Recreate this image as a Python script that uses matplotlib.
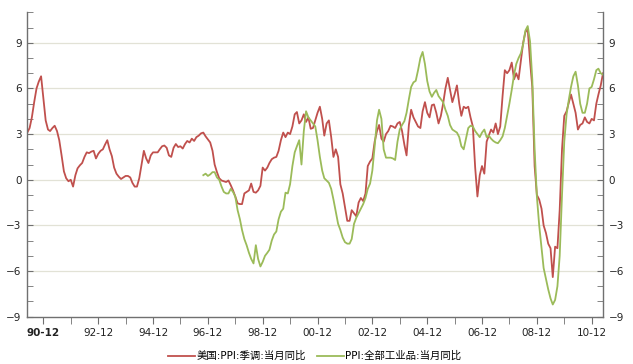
import numpy as np
import pandas as pd
import matplotlib
matplotlib.use("Agg")
import matplotlib.pyplot as plt
import matplotlib.dates as mdates
from matplotlib.ticker import MultipleLocator, FixedLocator

plt.rcParams['font.family'] = ['DejaVu Sans', 'Noto Sans CJK SC']

# 美国:PPI:季调:当月同比, monthly from 1990-05
us_start = '1990-05-01'
us_ppi = [
    3.1, 3.4, 4.1, 5.1, 6.0, 6.45, 6.8, 5.4, 3.9, 3.3, 3.2, 3.4,
    3.55, 3.2, 2.6, 1.6, 0.55, 0.1, -0.1, 0.0, -0.45, 0.3, 0.75, 0.95,
    1.1, 1.5, 1.8, 1.75, 1.85, 1.9, 1.4, 1.7, 1.9, 2.0, 2.3, 2.6,
    2.0, 1.55, 0.8, 0.4, 0.2, 0.05, 0.15, 0.25, 0.25, 0.15, -0.2, -0.45,
    -0.45, 0.1, 1.0, 1.9, 1.4, 1.1, 1.6, 1.8, 1.8, 1.8, 2.0, 2.2,
    2.25, 2.1, 1.6, 1.5, 2.1, 2.35, 2.15, 2.2, 2.05, 2.35, 2.55, 2.45,
    2.7, 2.55, 2.8, 2.9, 3.05, 3.1, 2.85, 2.65, 2.45, 1.9, 1.0, 0.5,
    0.1, -0.05, -0.1, -0.15, -0.05, -0.35, -0.7, -1.1, -1.55, -1.6, -1.6, -0.9,
    -0.8, -0.7, -0.25, -0.8, -0.85, -0.7, -0.4, 0.8, 0.6, 0.8, 1.1, 1.35,
    1.45, 1.5, 1.9, 2.6, 3.1, 2.8, 3.1, 3.0, 3.5, 4.3, 4.45, 3.7,
    3.9, 4.3, 3.8, 4.1, 3.35, 3.4, 3.9, 4.4, 4.8, 4.0, 2.9, 3.7,
    3.9, 2.8, 1.5, 2.0, 1.5, -0.3, -0.9, -1.8, -2.7, -2.7, -2.0, -2.2,
    -2.4, -1.5, -1.2, -1.4, -0.9, 0.9, 1.2, 1.4, 2.5, 3.2, 3.6, 2.7,
    2.5, 3.0, 3.2, 3.55, 3.5, 3.4, 3.7, 3.8, 3.2, 2.3, 1.6, 3.6,
    4.6, 4.1, 3.8, 3.5, 3.4, 4.5, 5.1, 4.4, 4.1, 4.9, 4.95, 4.4,
    3.7, 4.2, 5.0, 6.0, 6.7, 5.9, 5.1, 5.6, 6.2, 5.0, 4.2, 4.8,
    4.7, 4.8, 4.1, 3.5, 0.8, -1.1, 0.3, 0.9, 0.4, 2.5, 2.9, 3.3,
    3.1, 3.7, 3.0, 3.5, 5.5, 7.2, 7.0, 7.2, 7.7, 6.6, 7.0, 6.6,
    7.8, 9.0, 9.7, 9.9, 7.8, 6.1, 0.9, -1.0, -1.3, -1.9, -3.0, -3.5,
    -4.2, -4.5, -6.4, -4.4, -4.5, -2.0, 2.0, 4.2, 4.5, 5.1, 5.6, 5.0,
    4.4, 3.3, 3.6, 3.7, 4.1, 3.8, 3.7, 4.0, 3.9, 5.0, 5.6, 6.2,
    7.0,
]

# PPI:全部工业品:当月同比, monthly from 1996-10
cn_start = '1996-10-01'
cn_ppi = [
    0.3, 0.4, 0.25, 0.35, 0.5, 0.5, 0.15,
    0.0, -0.45, -0.8, -0.9, -0.9, -0.6, -0.8, -1.1, -2.0, -2.6, -3.3, -3.9,
    -4.3, -4.8, -5.2, -5.5, -4.3, -5.2, -5.7, -5.4, -5.0, -4.8, -4.6, -4.0,
    -3.6, -3.4, -2.6, -2.1, -1.9, -0.85, -0.9, -0.3, 0.9, 1.8, 2.2, 2.6,
    1.0, 3.2, 4.5, 4.1, 3.9, 3.7, 3.5, 2.6, 1.5, 0.6, 0.1, -0.05,
    -0.2, -0.6, -1.3, -2.1, -2.9, -3.3, -3.8, -4.1, -4.2, -4.2, -3.9, -2.9,
    -2.5, -2.2, -1.9, -1.6, -1.2, -0.6, -0.25, 0.6, 2.2, 3.9, 4.6, 4.0,
    2.0, 1.45, 1.45, 1.45, 1.4, 1.3, 2.5, 3.3, 3.6, 3.85, 4.4, 5.3,
    6.1, 6.4, 6.5, 7.2, 8.0, 8.4, 7.6, 6.5, 5.8, 5.45, 5.7, 5.9,
    5.5, 5.3, 5.1, 4.6, 4.2, 3.6, 3.3, 3.2, 3.1, 2.8, 2.2, 2.0,
    2.7, 3.4, 3.55, 3.5, 3.2, 3.0, 2.8, 3.1, 3.3, 2.8, 2.9, 2.7,
    2.55, 2.45, 2.4, 2.6, 2.85, 3.4, 4.2, 5.0, 5.9, 6.9, 7.6, 8.0,
    8.3, 8.9, 9.8, 10.1, 9.1, 6.6, 2.0, -1.1, -3.0, -4.5, -5.8, -6.5,
    -7.2, -7.8, -8.2, -7.9, -7.0, -5.0, -1.0, 2.5, 4.3, 5.3, 6.1, 6.8,
    7.1, 6.2, 5.0, 4.4, 4.4, 5.0, 6.0, 6.1, 6.6, 7.2, 7.3, 7.0,
    6.9,
]

labels = ['美国:PPI:季调:当月同比', 'PPI:全部工业品:当月同比']
tick_years = list(range(1990, 2011, 2))
minor_years = list(range(1991, 2011, 2))

us_dates = pd.date_range(us_start, periods=len(us_ppi), freq='MS')
cn_dates = pd.date_range(cn_start, periods=len(cn_ppi), freq='MS')

fig = plt.figure(figsize=(6.33, 3.64), dpi=100)
ax = fig.add_axes([0.0431, 0.130, 0.9095, 0.836])

ax.plot(us_dates, us_ppi, color='#C0504D', lw=1.3, label=labels[0])
ax.plot(cn_dates, cn_ppi, color='#9BBB59', lw=1.3, label=labels[1])

ax.set_xlim(us_dates[0], us_dates[-1])
ax.set_ylim(-9, 11)

ax.yaxis.set_major_locator(FixedLocator([-9, -6, -3, 0, 3, 6, 9]))
ax.yaxis.set_minor_locator(MultipleLocator(1))
ax.yaxis.set_ticks_position('both')
ax.tick_params(axis='y', which='both', direction='in', labelleft=True,
               labelright=True, labelsize=7.5, colors='#222222', pad=4)
ax.tick_params(axis='y', which='both', length=4, color='#707070')

xt = [mdates.date2num(pd.Timestamp(f'{y}-12-01')) for y in tick_years]
xm = [mdates.date2num(pd.Timestamp(f'{y}-12-01')) for y in minor_years]
ax.set_xticks(xt)
ax.set_xticks(xm, minor=True)
ax.set_xticklabels([f'{y % 100:02d}-12' for y in tick_years])
ax.get_xticklabels()[0].set_fontweight('bold')
ax.tick_params(axis='x', which='both', direction='out', length=5,
               color='#707070', labelsize=7.5, labelcolor='#222222', pad=3)

for v in [-6, -3, 0, 3, 6, 9]:
    ax.axhline(v, color='#e2e2d6', lw=0.9, zorder=0)

ax.spines['top'].set_visible(False)
for s in ['left', 'right', 'bottom']:
    ax.spines[s].set_color('#707070')
    ax.spines[s].set_linewidth(1.0)

fig.legend(loc='lower center', bbox_to_anchor=(0.497, -0.018), ncol=2,
           frameon=False, handlelength=2.6, columnspacing=1.1,
           handletextpad=0.1,
           prop={'family': ['DejaVu Sans', 'Noto Sans CJK SC'], 'size': 7.5})

fig.savefig('out.png', dpi=100)
